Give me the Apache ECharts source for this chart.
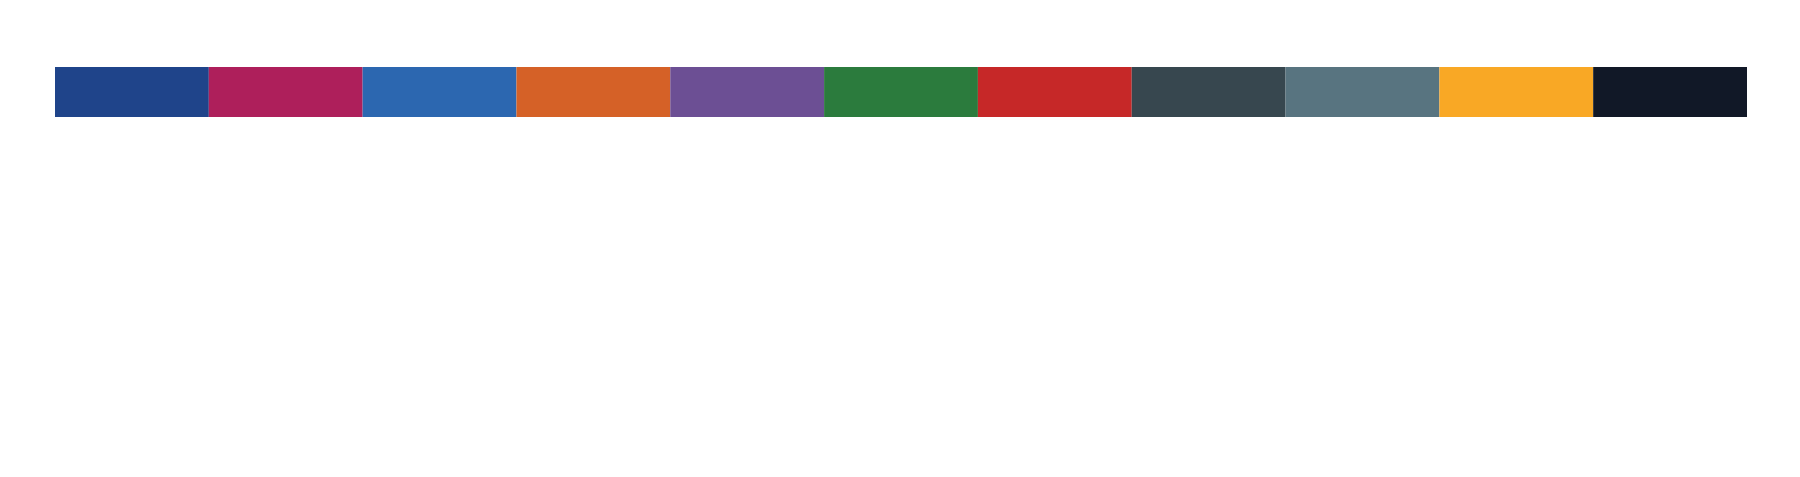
<!DOCTYPE html>
<html><head><meta charset="utf-8">
<script src="https://cdn.jsdelivr.net/npm/echarts@6/dist/echarts.min.js"></script>
<style>html,body{margin:0;padding:0;background:#fff}#c{width:1800px;height:477px}</style>
</head><body><div id="c"></div>
<script>
const swatchNames = ['c1','c2','c3','c4','c5','c6','c7','c8','c9','c10','c11'];
const swatchValues = [1,1,1,1,1,1,1,1,1,1,1];
const swatchColors = ['#1F448A','#AE1F5B','#2C67B0','#D56127','#6C4F94','#2B7B3D','#C62828','#37474F','#587480','#F9A825','#111827'];

const chart = echarts.init(document.getElementById('c'));
chart.setOption({
  animation: false,
  backgroundColor: '#ffffff',
  grid: {left: 55, right: 53, top: 67, height: 50},
  xAxis: {type: 'value', min: 0, max: swatchValues.length, show: false},
  yAxis: {type: 'category', data: ['palette'], show: false},
  series: swatchNames.map((n, i) => ({
    name: n, type: 'bar', stack: 'all', barWidth: '100%',
    data: [swatchValues[i]],
    itemStyle: {color: swatchColors[i]}
  }))
});
</script></body></html>
